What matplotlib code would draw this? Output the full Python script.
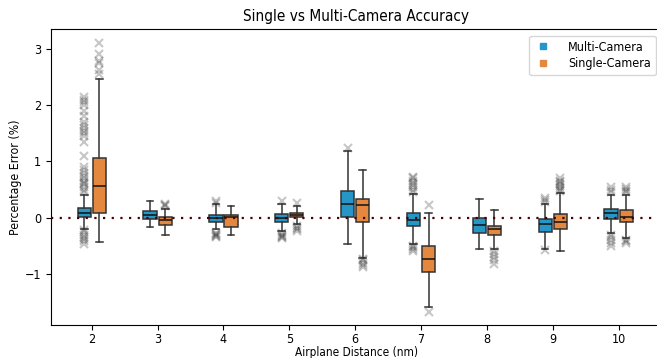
import numpy as np
import matplotlib
matplotlib.use("Agg")
import matplotlib.pyplot as plt
from matplotlib.lines import Line2D

plt.rcParams['font.stretch'] = 'condensed'

# distances (nm)
distances = [2, 3, 4, 5, 6, 7, 8, 9, 10]

# multi-camera box stats (percentage error)
multi_q1 = [0.02, -0.03, -0.08, -0.08, 0.005, -0.15, -0.28, -0.25, -0.02]
multi_med = [0.09, 0.05, -0.01, 0.0, 0.25, -0.04, -0.13, -0.11, 0.08]
multi_q3 = [0.17, 0.12, 0.05, 0.07, 0.48, 0.08, 0.0, -0.02, 0.15]
multi_lo = [-0.20, -0.17, -0.21, -0.24, -0.46, -0.46, -0.56, -0.55, -0.27]
multi_hi = [0.40, 0.29, 0.24, 0.25, 1.18, 0.42, 0.33, 0.25, 0.41]
multi_fliers = [
    [0.45, 0.5, 0.55, 0.6, 0.62, 0.65, 0.7, 0.75, 0.8, 0.85, 0.9, 1.1, 1.35, 1.45,
     1.5, 1.55, 1.6, 1.65, 1.7, 1.8, 1.9, 2.0, 2.05, 2.1, 2.15,
     -0.22, -0.26, -0.3, -0.34, -0.38, -0.42, -0.47],
    [],
    [0.27, 0.3, -0.27, -0.29, -0.31, -0.33, -0.35],
    [0.3, -0.27, -0.3, -0.32, -0.34, -0.37],
    [1.24],
    [0.46, 0.5, 0.54, 0.58, 0.62, 0.66, 0.7, 0.72, -0.5, -0.53, -0.56, -0.6],
    [],
    [0.28, 0.31, 0.35, -0.58],
    [0.45, 0.5, 0.55, -0.3, -0.35, -0.4, -0.45, -0.5],
]

# single-camera box stats
single_q1 = [0.08, -0.13, -0.17, 0.005, -0.08, -0.96, -0.31, -0.21, -0.08]
single_med = [0.57, -0.05, 0.01, 0.05, 0.22, -0.73, -0.21, -0.07, 0.005]
single_q3 = [1.07, 0.005, 0.04, 0.08, 0.34, -0.50, -0.14, 0.07, 0.14]
single_lo = [-0.44, -0.30, -0.30, -0.12, -0.72, -1.59, -0.55, -0.60, -0.37]
single_hi = [2.47, 0.16, 0.20, 0.20, 0.85, 0.09, 0.14, 0.44, 0.41]
single_fliers = [
    [2.55, 2.62, 2.75, 2.78, 2.92, 3.1],
    [0.2, 0.22, 0.25],
    [],
    [0.27, -0.15, -0.18, -0.21, -0.24],
    [-0.73, -0.76, -0.8, -0.84, -0.88],
    [0.23, -1.67],
    [-0.6, -0.65, -0.7, -0.76, -0.82],
    [0.47, 0.5, 0.53, 0.56, 0.6, 0.63, 0.66, 0.7],
    [0.45, 0.48, 0.51, 0.55, -0.4, -0.42, -0.45],
]

blue = "#2596c6"
orange = "#e5883f"


def make_stats(q1, med, q3, lo, hi, fl):
    out = []
    for i in range(len(q1)):
        out.append(dict(q1=q1[i], med=med[i], q3=q3[i], whislo=lo[i],
                        whishi=hi[i], fliers=np.array(fl[i])))
    return out


fig = plt.figure(figsize=(6.57, 3.58), dpi=100)
ax = fig.add_axes([0.0776, 0.092, 0.93, 0.826])

pos = np.arange(len(distances))
common = dict(widths=0.2, patch_artist=True, manage_ticks=False,
              medianprops=dict(color="#111111", lw=1.1),
              whiskerprops=dict(color="#333333", lw=1.1),
              capprops=dict(color="#333333", lw=1.1),
              flierprops=dict(marker="x", markersize=6, markeredgecolor="#222222",
                              alpha=0.25, markeredgewidth=1.5))

b1 = ax.bxp(make_stats(multi_q1, multi_med, multi_q3, multi_lo, multi_hi, multi_fliers),
            positions=pos - 0.115, **common)
b2 = ax.bxp(make_stats(single_q1, single_med, single_q3, single_lo, single_hi, single_fliers),
            positions=pos + 0.115, **common)
for b, c in [(b1, blue), (b2, orange)]:
    for p in b["boxes"]:
        p.set_facecolor(c)
        p.set_edgecolor("#333333")
        p.set_linewidth(1.1)

# zero reference line
ax.axhline(0, color="#4a0000", ls=(0, (1, 2.9)), lw=1.6, zorder=5)

ax.set_xlim(-0.62, 8.66)
ax.set_ylim(-1.91, 3.35)
ax.set_xticks(pos)
ax.set_xticklabels([str(d) for d in distances])
ax.set_yticks([-1, 0, 1, 2, 3])
ax.tick_params(labelsize=9)
ax.tick_params(axis="x", pad=2.5)
ax.set_xlabel("Airplane Distance (nm)", fontsize=8.5)
ax.xaxis.set_label_coords(0.5, -0.071)
ax.set_ylabel("Percentage Error (%)", fontsize=8.8, labelpad=2)
ax.set_title("Single vs Multi-Camera Accuracy", fontsize=11)

handles = [Line2D([], [], marker="s", ls="", color=blue, markersize=5),
           Line2D([], [], marker="s", ls="", color=orange, markersize=5)]
ax.legend(handles, ["Multi-Camera", "Single-Camera"], loc="upper right",
          fontsize=9, handlelength=1.4, handletextpad=1.3, labelspacing=0.3)

fig.savefig("out.png", dpi=100)
